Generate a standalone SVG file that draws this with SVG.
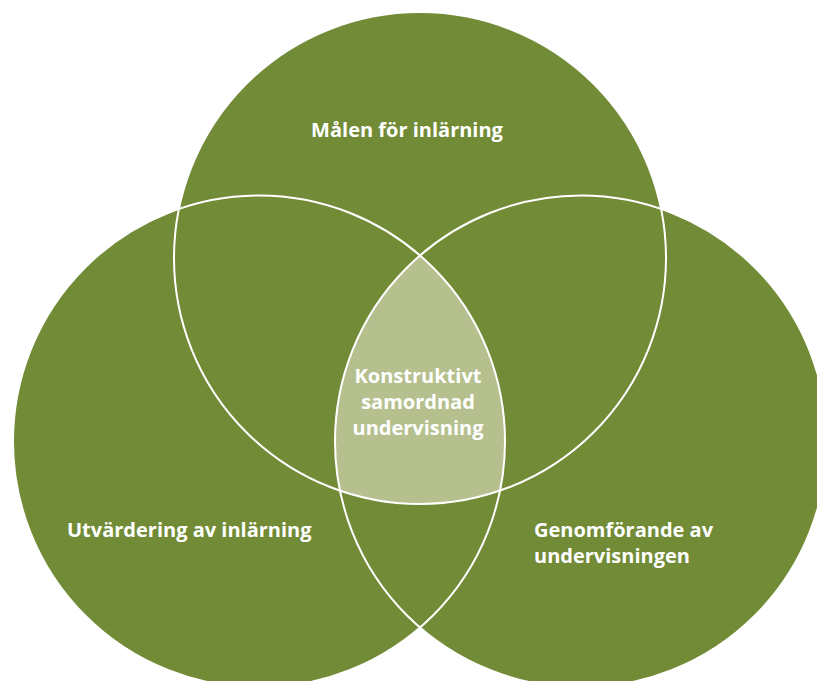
<svg xmlns="http://www.w3.org/2000/svg" width="817" height="681" viewBox="0 0 817 681">
<style>
.fill{fill:#728b36}
.edge{fill:none;stroke:#ffffff;stroke-width:2}
.lbl{font-family:"Open Sans","Liberation Sans",sans-serif;font-weight:bold;font-size:20px;fill:#ffffff}
</style>
<defs>
<clipPath id="cTop"><circle cx="420" cy="258" r="246"/></clipPath>
<clipPath id="cLeft"><circle cx="259" cy="441.5" r="246"/></clipPath>
</defs>
<rect width="817" height="681" fill="#ffffff"/>
<g id="top-circle"><circle class="fill" cx="420" cy="258" r="246"/></g>
<g id="left-circle"><circle class="fill" cx="259" cy="441.5" r="246"/></g>
<g id="right-circle"><circle class="fill" cx="581" cy="441.5" r="246"/></g>
<g id="center-lens" clip-path="url(#cTop)"><g clip-path="url(#cLeft)"><circle cx="581" cy="441.5" r="246" fill="#b6bf8e"/></g></g>
<g id="outlines">
<circle class="edge" cx="420" cy="258" r="246"/>
<circle class="edge" cx="259" cy="441.5" r="246"/>
<circle class="edge" cx="581" cy="441.5" r="246"/>
</g>
<g id="labels">
<text class="lbl" x="407" y="137" text-anchor="middle">Målen för inlärning</text>
<text class="lbl" x="67" y="537">Utvärdering av inlärning</text>
<text class="lbl" x="534" y="537">Genomförande av</text>
<text class="lbl" x="534" y="563">undervisningen</text>
<text class="lbl" x="418" y="383" text-anchor="middle">Konstruktivt</text>
<text class="lbl" x="418" y="409" text-anchor="middle">samordnad</text>
<text class="lbl" x="418" y="435" text-anchor="middle">undervisning</text>
</g>
</svg>
